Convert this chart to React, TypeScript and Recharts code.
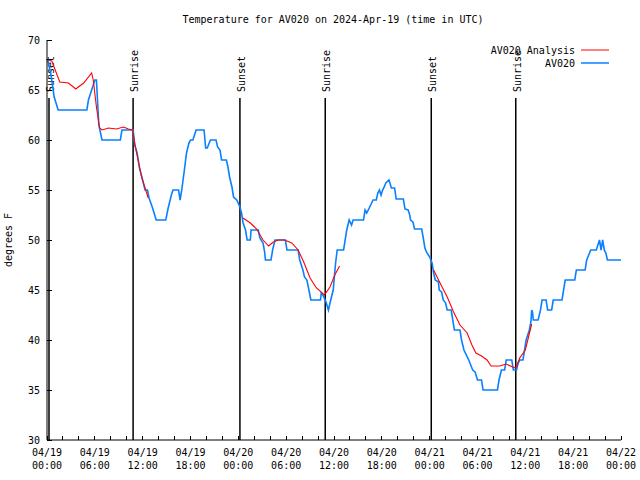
import { LineChart, Line, XAxis, YAxis, ReferenceLine } from "recharts";

// horas desde 2024-04-19 00:00 UTC
const av020Hours = [
  0.1, 0.5, 0.9, 1.4, 5.0, 5.2, 5.6, 6.0, 6.2, 6.5, 6.9, 9.2, 9.4, 10.8, 11.0, 11.3, 11.6, 11.9, 12.3, 12.6,
  12.8, 13.2, 13.7, 14.9, 15.2, 15.6, 15.8, 16.5, 16.7, 16.9, 17.2, 17.5, 17.8, 18.0, 18.3, 18.5, 18.7, 19.7,
  19.9, 20.1, 20.3, 20.5, 21.2, 21.4, 21.7, 21.9, 22.5, 22.7, 22.9, 23.2, 23.4, 23.8, 24.2, 24.4, 24.6, 24.9,
  25.1, 25.5, 25.6, 26.5, 26.7, 27.1, 27.3, 27.4, 28.1, 28.3, 28.6, 29.9, 30.1, 31.5, 31.7, 32.1, 32.3, 32.6,
  32.9, 33.1, 34.3, 34.4, 34.6, 35.0, 35.3, 35.5, 35.9, 36.2, 36.4, 37.2, 37.4, 37.6, 37.9, 38.2, 38.4, 39.7,
  39.9, 40.1, 40.3, 40.9, 41.3, 41.5, 41.7, 41.9, 42.1, 42.3, 42.5, 42.9, 43.2, 43.6, 43.8, 44.7, 44.9, 45.3,
  45.5, 45.6, 45.9, 46.1, 47.0, 47.2, 47.4, 47.6, 48.0, 48.3, 48.5, 48.7, 49.1, 49.2, 49.5, 49.7, 50.0, 50.2,
  50.7, 50.9, 51.1, 51.8, 52.0, 52.3, 52.9, 53.4, 53.7, 54.0, 54.5, 54.7, 56.5, 56.7, 57.0, 57.4, 57.6, 58.3,
  58.5, 58.9, 59.1, 59.3, 59.7, 59.9, 60.1, 60.5, 60.7, 60.8, 60.9, 61.0, 61.6, 61.9, 62.1, 62.6, 62.8, 63.3,
  63.5, 64.6, 64.8, 65.0, 66.2, 66.4, 67.5, 67.7, 68.2, 68.9, 69.1, 69.3, 69.5, 69.7, 69.9, 70.1, 70.3, 72.0,
];
const av020Temps = [
  68, 66.5, 64.3, 63, 63, 64, 65, 66, 66, 61.5, 60, 60, 61, 61, 59.5, 58.7, 57.2, 56.3, 55, 55,
  54.2, 53.3, 52, 52, 53.2, 54.5, 55, 55, 54, 55, 56.8, 58.7, 59.7, 60, 60, 60.5, 61, 61,
  59.2, 59.2, 59.6, 60, 60, 59.3, 59, 58, 58, 57.3, 56.3, 55.3, 54.3, 54, 53.3, 52.7, 51.7, 51,
  50, 50, 51, 51, 50.2, 49.7, 48.8, 48, 48, 49, 50, 50, 49, 49, 48, 47, 46.3, 46,
  44.8, 44, 44, 44.7, 44.5, 43.8, 43, 43.7, 45, 47.7, 49, 49, 50, 51, 52, 51.5, 52, 52,
  53, 52.7, 53, 54, 54, 54.7, 55, 54.5, 55, 55.3, 55.7, 56, 55.2, 55.2, 54.1, 54.1, 53.1, 53,
  52.5, 52, 51.8, 51.1, 51.1, 50.2, 49.2, 48.8, 48.3, 47.7, 46.7, 46, 45.8, 45, 44.8, 44, 43.7, 43,
  43, 42, 41, 41, 40, 39, 38, 37, 36.8, 36, 36, 35, 35, 36, 37, 37, 38, 38,
  37, 37, 37.7, 38, 38, 39, 40, 41, 41.8, 43, 42.8, 42, 42, 43, 44, 44, 43, 43,
  44, 44, 45, 46, 46, 47, 47, 48, 49, 49, 49.5, 50, 49, 50, 49, 48.7, 48, 48,
];

// analisis (tramos cortados con null)
const analysisHours = [
  0.17, 0.6, 1.6, 2.7, 3.6, 4.6, 5.6, 5.8, 6.2, 6.6, 6.9, 7.7, 8.7, 9.6, 10.2, 10.75, 11.0, 11.5, 11.9, 12.3, 12.7,
  18,
  24.6, 25.5, 26.3, 27.1, 27.8, 28.4, 29.0, 29.8, 30.7, 31.5, 32.2, 33.0, 33.8, 34.8, 35.5, 36.1, 36.7,
  42,
  48.5, 49.3, 50.2, 51.0, 51.8, 52.7, 53.3, 53.8, 54.5, 55.2, 55.7, 56.8, 57.6, 58.4, 58.8, 59.3, 60.0, 60.4, 60.8,
];
const analysisTemps = [
  68, 67.9, 65.8, 65.7, 65.1, 65.7, 66.7, 66.0, 63.3, 61.2, 61.0, 61.2, 61.1, 61.3, 61.1, 61, 59.7, 57.7, 56.2, 55.2, 54.2,
  null,
  52.2, 51.7, 51.1, 50, 49.4, 49.8, 50, 50, 49.7, 49, 47.8, 46.2, 45.2, 44.5, 45.3, 46.5, 47.4,
  null,
  47, 45.7, 44.3, 42.8, 41.5, 40.7, 39.5, 38.7, 38.4, 38, 37.4, 37.4, 37.6, 37.3, 37.2, 38.2, 39, 40.3, 41.6,
];

const eventHours = [0.25, 10.8, 24.2, 34.9, 48.2, 58.8];
const eventNames = ["Sunset", "Sunrise", "Sunset", "Sunrise", "Sunset", "Sunrise"];

const xTicks = Array.from({ length: 37 }, (_, i) => i * 2);
const yTicks = [30, 35, 40, 45, 50, 55, 60, 65, 70];

const FONT = "'DejaVu Sans Mono', monospace";
const BLUE = "#0a80ff";
const RED = "#ff0000";

const av020Data = av020Hours.map((h, i) => ({ h, t: av020Temps[i] }));
const analysisData = analysisHours.map((h, i) => ({ h, t: analysisTemps[i] }));

function pad(n: number) {
  return n < 10 ? "0" + n : "" + n;
}

function BottomTick({ x, y, payload }: any) {
  const v = payload.value as number;
  const day = 19 + Math.floor(v / 24);
  const hour = v % 24;
  return (
    <g>
      <line x1={x} y1={y} x2={x} y2={y - 4} stroke="#000" shapeRendering="crispEdges" />
      {v % 6 === 0 && (
        <text textAnchor="middle" fontFamily={FONT} fontSize={10} fill="#000">
          <tspan x={x} y={y + 16}>{`04/${pad(day)}`}</tspan>
          <tspan x={x} y={y + 29}>{`${pad(hour)}:00`}</tspan>
        </text>
      )}
    </g>
  );
}

function TopTick({ x, y }: any) {
  return <line x1={x} y1={y} x2={x} y2={y + 4} stroke="#000" shapeRendering="crispEdges" />;
}

function LeftTick({ x, y, payload }: any) {
  return (
    <g>
      <line x1={x} y1={y} x2={x + 5} y2={y} stroke="#000" shapeRendering="crispEdges" />
      <text x={x - 7} y={y + 4} textAnchor="end" fontFamily={FONT} fontSize={10} fill="#000">
        {payload.value}
      </text>
    </g>
  );
}

function RightTick({ x, y }: any) {
  return <line x1={x} y1={y} x2={x - 5} y2={y} stroke="#000" shapeRendering="crispEdges" />;
}

function EventLabel({ viewBox, text }: any) {
  const x = viewBox.x + 5;
  const y = viewBox.y - 6;
  return (
    <text x={x} y={y} transform={`rotate(-90 ${x} ${y})`} fontFamily={FONT} fontSize={10} fill="#000">
      {text}
    </text>
  );
}

function YLabel({ viewBox }: any) {
  const x = 12;
  const y = viewBox.y + viewBox.height / 2;
  return (
    <text x={x} y={y} transform={`rotate(-90 ${x} ${y})`} textAnchor="middle" fontFamily={FONT} fontSize={10} fill="#000">
      degrees F
    </text>
  );
}

export default function App() {
  return (
    <div style={{ position: "absolute", top: 0, left: 0, width: 640, height: 480, background: "#fff" }}>
      <LineChart width={640} height={480} margin={{ top: 40, right: 19, left: 0, bottom: 0 }}>
        <XAxis
          xAxisId="b"
          dataKey="h"
          type="number"
          domain={[0, 72]}
          ticks={xTicks}
          interval={0}
          height={40}
          tickSize={0}
          tickMargin={0}
          tickLine={false}
          axisLine={{ stroke: "#000" }}
          tick={<BottomTick />}
        />
        <XAxis
          xAxisId="t"
          orientation="top"
          type="number"
          domain={[0, 72]}
          ticks={xTicks}
          interval={0}
          height={0}
          tickSize={0}
          tickMargin={0}
          tickLine={false}
          axisLine={{ stroke: "#000" }}
          tick={<TopTick />}
        />
        <YAxis
          yAxisId="l"
          type="number"
          domain={[30, 70]}
          ticks={yTicks}
          interval={0}
          width={47}
          tickSize={0}
          tickMargin={0}
          tickLine={false}
          axisLine={{ stroke: "#000" }}
          tick={<LeftTick />}
          label={<YLabel />}
        />
        <YAxis
          yAxisId="r"
          orientation="right"
          type="number"
          domain={[30, 70]}
          ticks={yTicks}
          interval={0}
          width={0}
          tickSize={0}
          tickMargin={0}
          tickLine={false}
          axisLine={{ stroke: "#000" }}
          tick={<RightTick />}
        />
        {eventHours.map((h, i) => (
          <ReferenceLine
            key={i}
            xAxisId="b"
            yAxisId="l"
            segment={[
              { x: h, y: 30 },
              { x: h, y: 64.2 },
            ]}
            stroke="#000"
            strokeWidth={1.5}
            label={<EventLabel text={eventNames[i]} />}
          />
        ))}
        <Line
          xAxisId="b"
          yAxisId="l"
          data={av020Data}
          dataKey="t"
          type="linear"
          stroke={BLUE}
          strokeWidth={1.6}
          dot={false}
          isAnimationActive={false}
        />
        <Line
          xAxisId="b"
          yAxisId="l"
          data={analysisData}
          dataKey="t"
          type="linear"
          stroke={RED}
          strokeWidth={1.1}
          dot={false}
          connectNulls={false}
          isAnimationActive={false}
        />
      </LineChart>
      <svg width={640} height={480} style={{ position: "absolute", top: 0, left: 0, pointerEvents: "none" }}>
        <text x={333} y={23} textAnchor="middle" fontFamily={FONT} fontSize={10} fill="#000">
          Temperature for AV020 on 2024-Apr-19 (time in UTC)
        </text>
        <text x={575} y={54} textAnchor="end" fontFamily={FONT} fontSize={10} fill="#000">
          AV020 Analysis
        </text>
        <line x1={581} y1={50} x2={609} y2={50} stroke={RED} />
        <text x={575} y={67} textAnchor="end" fontFamily={FONT} fontSize={10} fill="#000">
          AV020
        </text>
        <line x1={581} y1={63} x2={609} y2={63} stroke={BLUE} strokeWidth={1.5} />
      </svg>
    </div>
  );
}
